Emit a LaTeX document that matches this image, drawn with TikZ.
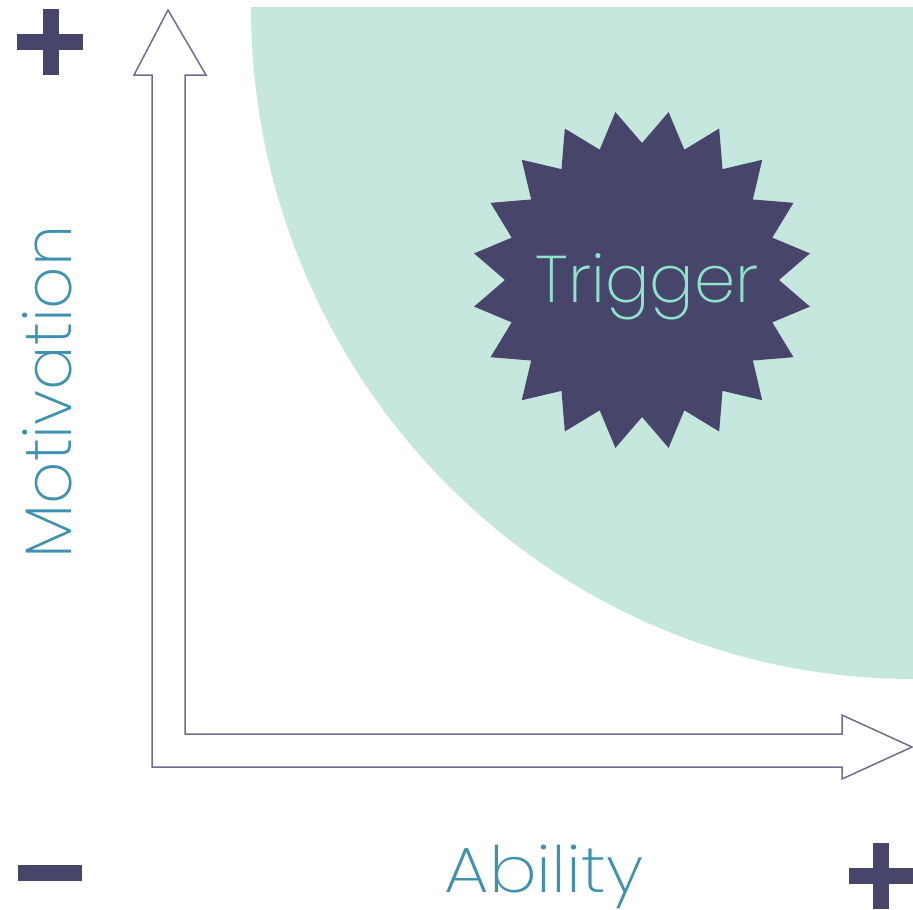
\documentclass[tikz,border=0pt]{standalone}
\usepackage{fontspec}
\IfFontExistsTF{Poppins ExtraLight}{\newfontfamily\thinfont{Poppins ExtraLight}}{%
  \IfFontExistsTF{Poppins Light}{\newfontfamily\thinfont{Poppins Light}}{\newfontfamily\thinfont{Poppins}}}
\definecolor{darkp}{HTML}{48456A}
\definecolor{mintbg}{HTML}{C5E7DD}
\definecolor{tealtxt}{HTML}{3F92AF}
\definecolor{minttxt}{HTML}{8EE3CC}
\definecolor{arrowc}{HTML}{706D8E}
\tikzset{
  signbar/.style={draw=darkp, line width=16pt, line cap=butt},
  axislabel/.style={text=tealtxt, font=\thinfont\fontsize{66}{70}\selectfont, inner sep=0pt},
  arrowline/.style={draw=arrowc, line width=1.5pt, line join=miter, fill=white},
}
\begin{document}
\begin{tikzpicture}[x=1pt, y=-1pt]
\useasboundingbox (0,0) rectangle (913,910);
\fill[white] (0,0) rectangle (913,910);
% green quarter ellipse
\fill[mintbg] (913,7) -- (251,7) arc[start angle=180, end angle=90, x radius=662, y radius=672] -- cycle;
% star
\begin{scope}[shift={(642,280)}]
\fill[darkp] (0:137) \foreach \a in {0,18,...,342}{ -- ({\a}:137) -- ({\a+9}:170)} -- cycle;
\end{scope}
\node[text=minttxt, font=\thinfont\fontsize{66}{70}\selectfont, inner sep=0pt, anchor=base] (trigger) at (647,302) {Trigger};
% axes arrow
\draw[arrowline] (152,767) -- (152,75) -- (134,75) -- (168,10) -- (206,75) -- (185,75)
  -- (185,734) -- (842,734) -- (842,715) -- (912,747) -- (842,779) -- (842,767) -- cycle;
% labels
\node[axislabel, rotate=90, anchor=base] (motivation) at (71,392) {Motivation};
\node[axislabel, anchor=base, font=\thinfont\fontsize{64}{68}\selectfont, xscale=1.11] (ability) at (544,892) {Ability};
% signs
\draw[signbar] (17,42) -- (83,42);
\draw[signbar] (51,9) -- (51,75);
\draw[signbar] (18,873) -- (82,873);
\draw[signbar] (849,876) -- (913,876);
\draw[signbar] (881,843) -- (881,909);
\end{tikzpicture}
\end{document}
